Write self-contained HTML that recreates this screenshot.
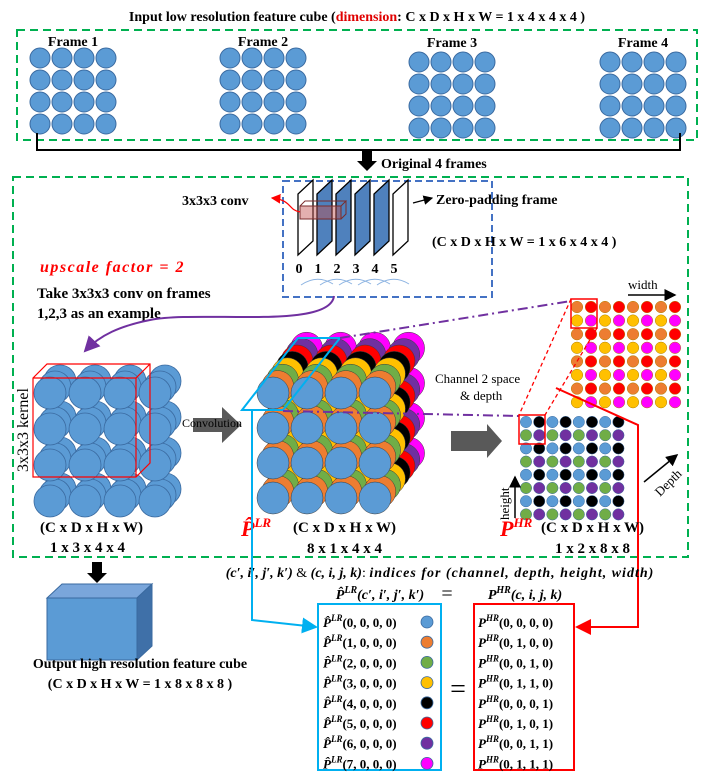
<!DOCTYPE html>
<html><head><meta charset="utf-8"><style>
html,body{margin:0;padding:0;background:#fff}
svg{display:block}
text{font-family:"Liberation Serif",serif}
.b{font-weight:bold}
.m{font-weight:bold;font-style:italic}
</style></head><body>
<svg id="s" width="710" height="783" viewBox="0 0 710 783" xmlns="http://www.w3.org/2000/svg">
<defs>
<marker id="ahb" markerWidth="8" markerHeight="8" refX="7" refY="4" orient="auto"><path d="M0,0 L8,4 L0,8 z" fill="#00b0f0"/></marker>
<marker id="ahr" markerWidth="8" markerHeight="8" refX="7" refY="4" orient="auto"><path d="M0,0 L8,4 L0,8 z" fill="#ff0000"/></marker>
<marker id="ahp" markerWidth="8" markerHeight="8" refX="7" refY="4" orient="auto"><path d="M0,0 L8,4 L0,8 z" fill="#7030a0"/></marker>
<marker id="ahk" markerWidth="8" markerHeight="8" refX="7" refY="4" orient="auto"><path d="M0,0 L8,4 L0,8 z" fill="#000"/></marker>
</defs>

<text x="357" y="21" text-anchor="middle" font-size="14" class="b">Input low resolution feature cube (<tspan fill="#e00000">dimension</tspan>: C x D x H x W = 1 x 4 x 4 x 4 )</text>
<rect x="17" y="30" width="680" height="110" fill="none" stroke="#00b050" stroke-width="2" stroke-dasharray="8,5"/>
<g id="frames"></g>
<path d="M37,133 L37,150 L680,150 L680,133" fill="none" stroke="#000" stroke-width="2"/>
<path d="M362,151 L372,151 L372,161 L377,161 L367,171 L357,161 L362,161 z" fill="#000"/>
<text x="381" y="168" font-size="14" class="b">Original 4 frames</text>

<rect x="13" y="177" width="675" height="380" fill="none" stroke="#00b050" stroke-width="2" stroke-dasharray="8,5"/>

<rect x="283" y="181" width="209" height="116" fill="none" stroke="#4472c4" stroke-width="2" stroke-dasharray="7,4"/>
<g id="slabs"></g>
<rect x="300" y="206" width="41" height="13" fill="#c0504d" fill-opacity="0.45" stroke="#7b2c2c"/>
<path d="M300,206 l5,-5 l41,0 l-5,5 M341,219 l5,-5 l0,-13" fill="none" stroke="#7b2c2c"/>
<path d="M300,212 C288,210 292,200 272,198" fill="none" stroke="#ff0000" stroke-width="1.2" marker-end="url(#ahr)"/>
<text x="182" y="205" font-size="14" class="b">3x3x3 conv</text>
<path d="M413,203 L432,198" stroke="#000" stroke-width="1.2" marker-end="url(#ahk)"/>
<text x="436" y="204" font-size="14" class="b">Zero-padding frame</text>
<text x="432" y="246" font-size="14" class="b">(C x D x H x W = 1 x 6 x 4 x 4 )</text>
<g id="frameidx"></g>

<text x="40" y="272" font-size="16" fill="#ff0000" class="m" letter-spacing="1.5">upscale factor = 2</text>
<text x="37" y="298" font-size="15" class="b">Take 3x3x3 conv on frames</text>
<text x="37" y="318" font-size="15" class="b">1,2,3 as an example</text>
<path d="M334,296 C330,330 200,310 150,320 C120,326 100,335 85,351" fill="none" stroke="#7030a0" stroke-width="2" marker-end="url(#ahp)"/>

<g id="lcube"></g>
<text transform="translate(28,472) rotate(-90)" font-size="16">3x3x3 kernel</text>
<text x="40" y="532" font-size="15" class="b">(C x D x H x W)</text>
<text x="50" y="552" font-size="15" class="b">1 x 3 x 4 x 4</text>

<path d="M193,418 L222,418 L222,407 L241,425 L222,443 L222,432 L193,432 z" fill="#595959"/>
<text x="182" y="427" font-size="12">Convolution</text>

<g id="mcube"></g>
<polygon points="242,410 298,338 340,338 283,410" fill="none" stroke="#00b0f0" stroke-width="2"/>
<path d="M340,338 L571,301" stroke="#7030a0" stroke-width="2" stroke-dasharray="10,4,2,4" fill="none"/>
<path d="M283,411 L519,416" stroke="#7030a0" stroke-width="2" stroke-dasharray="10,4,2,4" fill="none"/>
<text x="241" y="536" font-size="22" fill="#ff0000" class="m">P̂<tspan font-size="13" dy="-9">LR</tspan></text>
<text x="293" y="532" font-size="15" class="b">(C x D x H x W)</text>
<text x="307" y="553" font-size="15" class="b">8 x 1 x 4 x 4</text>

<path d="M451,431 L487,431 L487,424 L502,441 L487,458 L487,451 L451,451 z" fill="#595959"/>
<text x="435" y="383" font-size="13">Channel 2 space</text>
<text x="460" y="400" font-size="13">&amp; depth</text>

<g id="hr"></g>
<rect x="571" y="299" width="26" height="29" fill="none" stroke="#ff0000" stroke-width="1.5"/>
<rect x="519" y="415" width="26" height="29" fill="none" stroke="#ff0000" stroke-width="1.5"/>
<path d="M571,299 L519,415 M597,328 L545,415" stroke="#ff0000" stroke-width="1.3" stroke-dasharray="4,3" fill="none"/>
<path d="M556,388 L638,425 L638,627 L577,627" stroke="#ff0000" stroke-width="2" fill="none" marker-end="url(#ahr)"/>
<path d="M628,295 L675,295" stroke="#000" stroke-width="1.5" marker-end="url(#ahk)"/>
<text x="628" y="289" font-size="13">width</text>
<path d="M644,482 L677,455" stroke="#000" stroke-width="1.5" marker-end="url(#ahk)"/>
<text transform="translate(660,497) rotate(-45)" font-size="13">Depth</text>
<path d="M515,518 L515,477" stroke="#000" stroke-width="1.5" marker-end="url(#ahk)"/>
<text transform="translate(509,520) rotate(-90)" font-size="13">height</text>
<text x="500" y="536" font-size="22" fill="#ff0000" class="m">P<tspan font-size="13" dy="-9">HR</tspan></text>
<text x="541" y="532" font-size="15" class="b">(C x D x H x W)</text>
<text x="555" y="553" font-size="15" class="b">1 x 2 x 8 x 8</text>

<path d="M92,562 L102,562 L102,573 L107,573 L97,583 L87,573 L92,573 z" fill="#000"/>
<polygon points="47,598 62,584 152,584 137,598" fill="#7aa6db" stroke="#3a6aa0"/>
<polygon points="137,598 152,584 152,646 137,660" fill="#3f70a8" stroke="#3a6aa0"/>
<rect x="47" y="598" width="90" height="62" fill="#5b9bd5" stroke="#3a6aa0"/>
<text x="140" y="668" font-size="14" text-anchor="middle" class="b">Output high resolution feature cube</text>
<text x="140" y="688" font-size="14" text-anchor="middle" class="b">(C x D x H x W = 1 x 8 x 8 x 8 )</text>

<text x="440" y="577" font-size="14" text-anchor="middle"><tspan class="m">(c′, i′, j′, k′)</tspan> &amp; <tspan class="m">(c, i, j, k)</tspan>:  <tspan class="m" letter-spacing="1">indices for (channel, depth, height, width)</tspan></text>
<text x="380" y="599" font-size="14" text-anchor="middle" class="b"><tspan class="m">P̂<tspan font-size="10" dy="-6">LR</tspan><tspan dy="6">(c′, i′, j′, k′)</tspan></tspan></text>
<text x="447" y="600" font-size="20" text-anchor="middle">=</text>
<text x="525" y="599" font-size="14" text-anchor="middle" class="b"><tspan class="m">P<tspan font-size="10" dy="-6">HR</tspan><tspan dy="6">(c, i, j, k)</tspan></tspan></text>
<path d="M252,410 L252,620 L316,627" stroke="#00b0f0" stroke-width="2" fill="none" marker-end="url(#ahb)"/>
<rect x="318" y="604" width="123" height="166" fill="none" stroke="#00b0f0" stroke-width="2"/>
<rect x="474" y="604" width="100" height="166" fill="none" stroke="#ff0000" stroke-width="2"/>
<text x="458" y="698" font-size="28" text-anchor="middle">=</text>
<g id="legend"></g>
</svg>
<script>
const COLORS = ["#5b9bd5","#ed7d31","#70ad47","#ffc000","#000000","#ff0000","#7030a0","#ff00ff"];
const CHANNELS = [0,1,2,3,4,5,6,7];
const HR_IDX = ["0,0,0,0","0,1,0,0","0,0,1,0","0,1,1,0","0,0,0,1","0,1,0,1","0,0,1,1","0,1,1,1"];
const FRAME_NAMES = ["Frame 1","Frame 2","Frame 3","Frame 4"];
const FRAME_IDX = ["0","1","2","3","4","5"];
const NS="http://www.w3.org/2000/svg";
function mk(p,tag,a){const e=document.createElementNS(NS,tag);for(const k in a)e.setAttribute(k,a[k]);p.appendChild(e);return e;}
const fg=document.getElementById('frames');
const fx=[40,230,419,610], fy=[58,58,62,62];
FRAME_NAMES.forEach((n,f)=>{
  const t=mk(fg,'text',{x:fx[f]+33,y:f<2?46:47,'font-size':14,'text-anchor':'middle','font-weight':'bold'});t.textContent=n;
  
  
  for(let r=0;r<4;r++)for(let c=0;c<4;c++){
    const e=mk(fg,'circle',{cx:fx[f]+c*22,cy:fy[f]+r*22,r:10,fill:'#5b9bd5',stroke:'#3a6aa0','stroke-width':1});
    
    
  }
});
const sg=document.getElementById('slabs');
FRAME_IDX.forEach((v,i)=>{
  const x=298+i*19;
  const fill=(i==0||i==5)?'#fff':'#4f81bd';
  const e=mk(sg,'polygon',{points:`${x},${255} ${x},${194} ${x+15},${180} ${x+15},${241}`,fill:fill,stroke:'#000','stroke-width':1.3});
  
  
  const t=mk(document.getElementById('frameidx'),'text',{x:x+1,y:273,'font-size':14,'font-weight':'bold','text-anchor':'middle'});t.textContent=v;
  
  
  if(i<5){mk(sg,'path',{d:`M${x+3},285 Q${x+19},${274} ${x+35},284`,fill:'none',stroke:'#8db4e2','stroke-width':1});}
});
const lg=document.getElementById('lcube');
for(let d=2;d>=0;d--)for(let r=0;r<4;r++)for(let c=0;c<4;c++){
  const e=mk(lg,'circle',{cx:50+c*35+d*5,cy:393+r*36-d*6,r:16,fill:'#5b9bd5',stroke:'#3a6aa0','stroke-width':0.8});
  
  
}
mk(lg,'path',{d:'M33,378 L47,364 L150,364 L150,463 L136,477 L33,477 z M33,378 L136,378 L150,364 M136,378 L136,477',fill:'none',stroke:'#ff0000','stroke-width':1.2});
const mg=document.getElementById('mcube');
for(let ch=7;ch>=0;ch--)for(let r=0;r<4;r++)for(let c=0;c<4;c++){
  const e=mk(mg,'circle',{cx:273+c*34+ch*4.8,cy:393+r*35-ch*6.4,r:16,fill:COLORS[CHANNELS[ch]],stroke:'#3a3a3a','stroke-width':0.5});
  
  
}
const hg=document.getElementById('hr');
for(let r=0;r<8;r++)for(let c=0;c<8;c++){
  const ct=(r%2==0)?(c%2==0?1:5):(c%2==0?3:7);
  let e=mk(hg,'circle',{cx:577+c*14,cy:307+r*13.6,r:5.8,fill:COLORS[ct],stroke:'#b08000','stroke-width':0.5});
  
  
  const cb=(r%2==0)?(c%2==0?0:4):(c%2==0?2:6);
  e=mk(hg,'circle',{cx:526+c*13.2,cy:422+r*13.2,r:5.7,fill:COLORS[cb],stroke:'#3a6aa0','stroke-width':0.5});
  
  
}
const lgd=document.getElementById('legend');
CHANNELS.forEach((ch,i)=>{
  const y=627+i*20.2;
  let t=mk(lgd,'text',{x:323,y:y,'font-size':13,'font-weight':'bold','font-style':'italic'});
  t.innerHTML=`P̂<tspan font-size="9" dy="-6">LR</tspan><tspan dy="6" font-style="normal">(${ch}, 0, 0, 0)</tspan>`;
  
  
  const c=mk(lgd,'circle',{cx:427,cy:y-5,r:6,fill:COLORS[ch],stroke:'#3a6aa0','stroke-width':0.8});
  
  
  t=mk(lgd,'text',{x:478,y:y,'font-size':13,'font-weight':'bold','font-style':'italic'});
  t.innerHTML=`P<tspan font-size="9" dy="-6">HR</tspan><tspan dy="6" font-style="normal">(${HR_IDX[i].split(',').join(', ')})</tspan>`;
  
  
});
</script>
</body></html>
